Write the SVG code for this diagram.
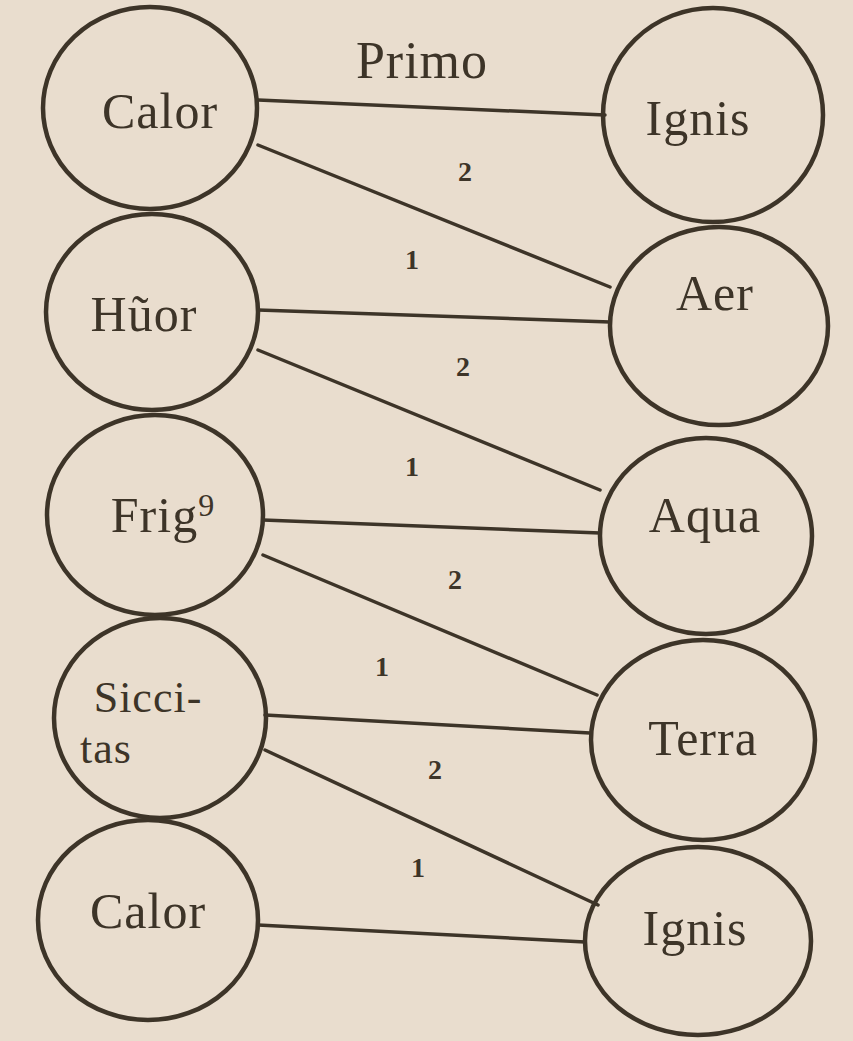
<svg xmlns="http://www.w3.org/2000/svg" width="853" height="1041" viewBox="0 0 853 1041">
<style>
.n{fill:none;stroke:#3d3428;stroke-width:4.5}
.c{fill:none;stroke:#3d3428;stroke-width:3.5;stroke-linecap:round}
.t{font-family:"Liberation Serif",serif;font-size:50px;fill:#3d3428;text-anchor:middle;letter-spacing:1px}
.l{font-family:"Liberation Serif",serif;font-size:28px;font-weight:bold;fill:#3d3428;text-anchor:middle}
</style>
<rect width="853" height="1041" fill="#e9ddce"/>
<g id="connectors">
<line class="c" x1="258" y1="100" x2="605" y2="115"/>
<line class="c" x1="258" y1="145" x2="610" y2="287"/>
<line class="c" x1="258" y1="310" x2="610" y2="322"/>
<line class="c" x1="258" y1="350" x2="600" y2="490"/>
<line class="c" x1="263" y1="520" x2="600" y2="533"/>
<line class="c" x1="263" y1="555" x2="597" y2="695"/>
<line class="c" x1="265" y1="715" x2="590" y2="733"/>
<line class="c" x1="265" y1="750" x2="598" y2="905"/>
<line class="c" x1="258" y1="925" x2="585" y2="942"/>
<text class="t" x="422" y="78" style="font-size:52px">Primo</text>
<text class="l" x="465" y="181">2</text>
<text class="l" x="412" y="269">1</text>
<text class="l" x="463" y="376">2</text>
<text class="l" x="412" y="476">1</text>
<text class="l" x="455" y="589">2</text>
<text class="l" x="382" y="676">1</text>
<text class="l" x="435" y="779">2</text>
<text class="l" x="418" y="877">1</text>
</g>
<g id="calor1"><ellipse class="n" cx="150" cy="108" rx="107" ry="101"/><text class="t" x="160" y="128">Calor</text></g>
<g id="huor"><ellipse class="n" cx="152" cy="312" rx="106" ry="98"/><text class="t" x="144" y="331">Hũor</text></g>
<g id="frigus"><ellipse class="n" cx="155" cy="515" rx="108" ry="100"/><text class="t" x="163" y="532">Frig<tspan dy="-16" font-size="32">9</tspan></text></g>
<g id="siccitas"><ellipse class="n" cx="160" cy="718" rx="106" ry="100"/><text class="t" x="148" y="712" style="font-size:44px">Sicci-</text><text class="t" x="106" y="763" style="font-size:44px">tas</text></g>
<g id="calor2"><ellipse class="n" cx="148" cy="920" rx="110" ry="100"/><text class="t" x="148" y="928">Calor</text></g>
<g id="ignis1"><ellipse class="n" cx="713" cy="115" rx="110" ry="107"/><text class="t" x="698" y="135">Ignis</text></g>
<g id="aer"><ellipse class="n" cx="719" cy="326" rx="109" ry="99"/><text class="t" x="715" y="310">Aer</text></g>
<g id="aqua"><ellipse class="n" cx="706" cy="536" rx="106" ry="98"/><text class="t" x="705" y="532">Aqua</text></g>
<g id="terra"><ellipse class="n" cx="703" cy="740" rx="112" ry="100"/><text class="t" x="703" y="755">Terra</text></g>
<g id="ignis2"><ellipse class="n" cx="698" cy="941" rx="113" ry="94"/><text class="t" x="695" y="945">Ignis</text></g>
</svg>
